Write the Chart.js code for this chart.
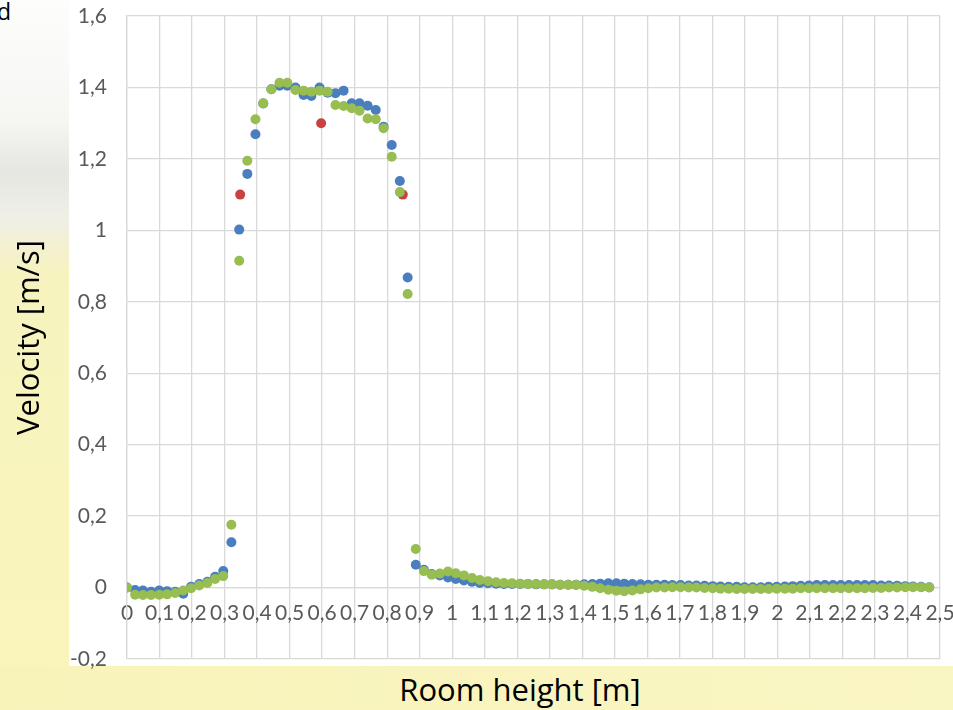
<!DOCTYPE html>
<html>
<head>
<meta charset="utf-8">
<script src="https://cdn.jsdelivr.net/npm/chart.js@4.4.1/dist/chart.umd.min.js"></script>
<style>
    html, body { margin: 0; padding: 0; }
    body {
        width: 953px; height: 710px; position: relative; overflow: hidden;
        background: linear-gradient(to bottom, #fdfdfc 0px, #f6f6f3 120px, #e6e6e2 170px, #efefe8 215px, #f3f0d2 245px, #f7f3bf 275px, #f9f5ba 100%);
        font-family: 'Open Sans', sans-serif;
    }
    #plotBox { position: absolute; left: 69px; top: 0; width: 884px; height: 666px; background: #ffffff; }
    #bottomStrip { position: absolute; left: 0; top: 666px; width: 953px; height: 44px; background: linear-gradient(to right, #f8f3b9, #faf6c4); }
    #wrap { position: absolute; left: 0; top: 0; width: 953px; height: 710px; }
    #slideTitle { position: absolute; left: -3px; top: -5px; font-size: 23px; color: #000; }
    #xTitle { position: absolute; left: 320px; top: 668px; width: 400px; text-align: center; font-size: 31px; color: #000; }
</style>
</head>
<body>
<div id="plotBox"></div>
<div id="bottomStrip"></div>
<div id="slideTitle">d</div>
<div id="xTitle">Room height [m]</div>
<div id="wrap"><canvas id="velocityChart" width="953" height="710"></canvas></div>

<script>
// Room height positions shared by the two measurement series
const heights = [
    0, 0.025, 0.049, 0.074, 0.099, 0.123, 0.148, 0.173, 0.197, 0.222,
    0.247, 0.271, 0.296, 0.321, 0.345, 0.370, 0.395, 0.419, 0.444, 0.469,
    0.493, 0.518, 0.543, 0.567, 0.592, 0.617, 0.641, 0.666, 0.691, 0.715,
    0.740, 0.765, 0.789, 0.814, 0.839, 0.863, 0.888, 0.913, 0.937, 0.962,
    0.987, 1.011, 1.036, 1.061, 1.085, 1.110, 1.135, 1.159, 1.184, 1.209,
    1.233, 1.258, 1.283, 1.307, 1.332, 1.357, 1.381, 1.406, 1.431, 1.455,
    1.480, 1.505, 1.529, 1.554, 1.579, 1.603, 1.628, 1.653, 1.677, 1.702,
    1.727, 1.751, 1.776, 1.801, 1.825, 1.850, 1.875, 1.899, 1.924, 1.949,
    1.973, 1.998, 2.023, 2.047, 2.072, 2.097, 2.121, 2.146, 2.171, 2.195,
    2.220, 2.245, 2.269, 2.294, 2.319, 2.343, 2.368, 2.393, 2.417, 2.442,
    2.467
];

const blueVelocity = [
    0.000, -0.007, -0.008, -0.012, -0.008, -0.010, -0.012, -0.017, 0.002, 0.010,
    0.016, 0.030, 0.046, 0.127, 1.002, 1.158, 1.269, 1.355, 1.395, 1.405,
    1.405, 1.400, 1.379, 1.376, 1.400, 1.385, 1.384, 1.391, 1.356, 1.356,
    1.349, 1.337, 1.290, 1.239, 1.138, 0.868, 0.064, 0.050, 0.038, 0.034,
    0.028, 0.024, 0.020, 0.016, 0.013, 0.012, 0.011, 0.010, 0.010, 0.010,
    0.010, 0.009, 0.009, 0.009, 0.008, 0.008, 0.008, 0.009, 0.010, 0.011,
    0.012, 0.012, 0.011, 0.010, 0.009, 0.008, 0.008, 0.008, 0.007, 0.007,
    0.006, 0.006, 0.005, 0.004, 0.003, 0.002, 0.002, 0.001, 0.001, 0.001,
    0.002, 0.002, 0.003, 0.004, 0.005, 0.006, 0.007, 0.007, 0.007, 0.007,
    0.007, 0.007, 0.007, 0.007, 0.006, 0.006, 0.005, 0.004, 0.003, 0.002,
    0.001
];

const greenVelocity = [
    0.000, -0.020, -0.021, -0.021, -0.020, -0.019, -0.015, -0.008, -0.002, 0.006,
    0.013, 0.024, 0.032, 0.176, 0.915, 1.195, 1.311, 1.356, 1.395, 1.413,
    1.413, 1.393, 1.391, 1.388, 1.391, 1.388, 1.351, 1.348, 1.342, 1.335,
    1.313, 1.311, 1.286, 1.206, 1.107, 0.822, 0.108, 0.046, 0.036, 0.039,
    0.045, 0.040, 0.034, 0.027, 0.021, 0.018, 0.015, 0.013, 0.012, 0.011,
    0.010, 0.010, 0.009, 0.009, 0.008, 0.008, 0.007, 0.005, 0.002, -0.002,
    -0.006, -0.009, -0.010, -0.008, -0.005, -0.002, 0.000, 0.000, 0.001, 0.001,
    0.000, 0.000, -0.001, -0.002, -0.003, -0.003, -0.004, -0.004, -0.004, -0.004,
    -0.004, -0.003, -0.003, -0.003, -0.002, -0.002, -0.002, -0.002, -0.002, -0.002,
    -0.002, -0.002, -0.002, -0.001, -0.001, 0.000, 0.000, 0.001, 0.001, 0.001,
    0.000
];

// Single reference points
const redHeights = [0.348, 0.597, 0.848];
const redVelocity = [1.10, 1.30, 1.10];

const xTickLabels = ['0', '0,1', '0,2', '0,3', '0,4', '0,5', '0,6', '0,7', '0,8', '0,9', '1', '1,1', '1,2',
    '1,3', '1,4', '1,5', '1,6', '1,7', '1,8', '1,9', '2', '2,1', '2,2', '2,3', '2,4', '2,5'];
const yTickLabels = ['-0,2', '0', '0,2', '0,4', '0,6', '0,8', '1', '1,2', '1,4', '1,6'];

function toPoints(xs, ys) {
    return xs.map((x, i) => ({ x: x, y: ys[i] }));
}

document.addEventListener('DOMContentLoaded', function () {
    const gridColor = '#d9d9d9';
    const tickFont = { family: 'Lato', size: 21 };

    new Chart(document.getElementById('velocityChart'), {
        type: 'scatter',
        data: {
            datasets: [
                { label: 'blue', data: toPoints(heights, blueVelocity), backgroundColor: '#4a7ebf', order: 3 },
                { label: 'red', data: toPoints(redHeights, redVelocity), backgroundColor: '#c8433f', order: 2 },
                { label: 'green', data: toPoints(heights, greenVelocity), backgroundColor: '#98bd50', order: 1 }
            ]
        },
        options: {
            responsive: false,
            animation: false,
            devicePixelRatio: 1,
            layout: { padding: { left: 0, top: 16, right: 13, bottom: 51 } },
            elements: { point: { radius: 5, borderWidth: 0, hoverRadius: 5 } },
            plugins: { legend: { display: false }, tooltip: { enabled: false } },
            scales: {
                x: {
                    type: 'linear',
                    position: { y: 0 },
                    min: 0,
                    max: 2.5,
                    // labels hang past the plot edge like in Excel
                    afterFit: function (scale) { scale.paddingLeft = 0; scale.paddingRight = 0; },
                    ticks: {
                        stepSize: 0.1,
                        autoSkip: false,
                        maxRotation: 0,
                        minRotation: 0,
                        padding: 13,
                        color: '#595959',
                        font: tickFont,
                        callback: (value, index) => xTickLabels[index]
                    },
                    grid: { color: gridColor, lineWidth: 1.3, drawTicks: false },
                    border: { color: gridColor, width: 1.3 }
                },
                y: {
                    type: 'linear',
                    position: 'left',
                    min: -0.2,
                    max: 1.6,
                    afterFit: function (scale) {
                        scale.width = 127;
                        scale.paddingTop = 0;
                        scale.paddingBottom = 0;
                    },
                    ticks: {
                        stepSize: 0.2,
                        padding: 20,
                        color: '#595959',
                        font: tickFont,
                        callback: (value, index) => yTickLabels[index]
                    },
                    grid: { color: gridColor, lineWidth: 1.3, drawTicks: false },
                    border: { color: gridColor, width: 1.3 },
                    title: {
                        display: true,
                        text: 'Velocity [m/s]',
                        color: '#000000',
                        font: { family: 'Open Sans', size: 31 },
                        padding: { top: 12, bottom: 0 }
                    }
                }
            }
        }
    });
});
</script>
</body>
</html>
